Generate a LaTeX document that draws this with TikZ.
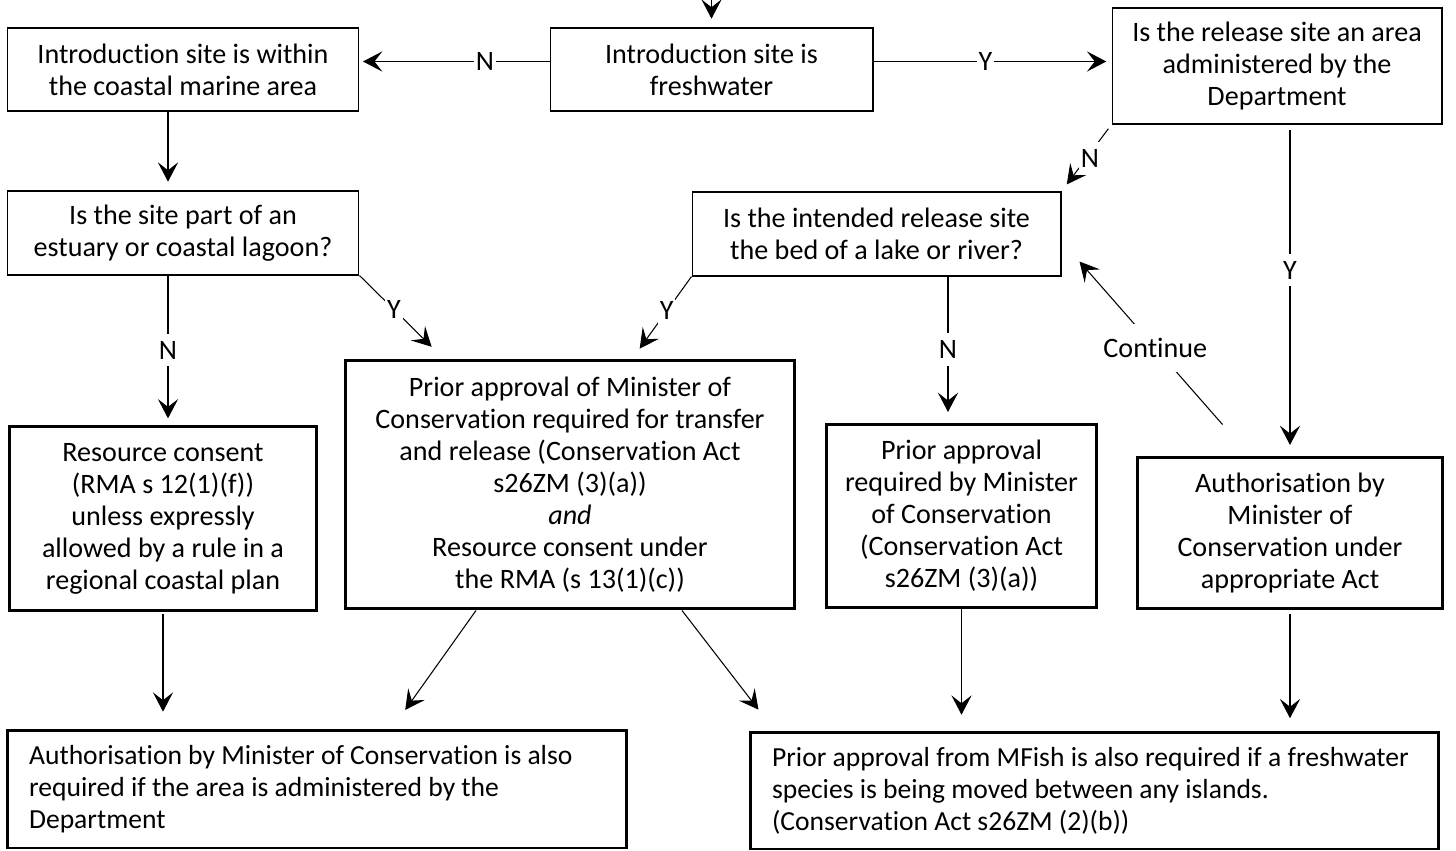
\documentclass[tikz,border=0pt]{standalone}
\usepackage{fontspec}
\setmainfont{Carlito}[Ligatures=NoCommon]
\usetikzlibrary{arrows.meta}

\tikzset{
  box/.style={draw, line width=0.6pt, align=center, inner sep=0pt},
  heavybox/.style={box, line width=1.7pt},
  notebox/.style={draw, line width=1.7pt, align=flush left, inner xsep=0.44cm, inner ysep=0pt, font=\fontsize{15.7}{18.2}\selectfont},
  arr/.style={line width=0.6pt, -{Stealth[length=11pt, width=11.5pt, inset=4.5pt]}, shorten >=5pt},
  lab/.style={fill=white, inner xsep=1pt, inner ysep=4pt}
}

\begin{document}
\begin{tikzpicture}[x=0.02cm, y=-0.02cm, font=\fontsize{16}{18.2}\selectfont]

\useasboundingbox (0,0) rectangle (1456,851);

\node[box, minimum width=6.46cm, minimum height=1.66cm] (fresh) at (711.5,69.5) {Introduction site is\\freshwater};
\node[box, minimum width=7.04cm, minimum height=1.66cm] (coast) at (183,69.5) {Introduction site is within\\the coastal marine area};
\node[box, minimum width=6.6cm, minimum height=2.32cm] (dept) at (1277,66) {Is the release site an area\\administered by the\\Department};

\node[box, minimum width=7.04cm, minimum height=1.68cm] (estuary) at (183,233) {Is the site part of an\\estuary or coastal lagoon?};
\node[box, minimum width=7.38cm, minimum height=1.68cm] (bed) at (876.5,234) {Is the intended release site\\the bed of a lake or river?};

\node[heavybox, minimum width=6.16cm, minimum height=3.7cm] (consent) at (163,518.5) {Resource consent\\(RMA s 12(1)(f))\\unless expressly\\allowed by a rule in a\\regional coastal plan};
\node[heavybox, minimum width=9cm, minimum height=4.98cm] (prior) at (570,484.5) {Prior approval of Minister of\\Conservation required for transfer\\and release (Conservation Act\\s26ZM (3)(a))\\\textit{and}\\Resource consent under\\the RMA (s 13(1)(c))};
\node[heavybox, minimum width=5.42cm, minimum height=3.68cm] (approval) at (961.5,516) {Prior approval\\required by Minister\\of Conservation\\(Conservation Act\\s26ZM (3)(a))};
\node[heavybox, minimum width=6.12cm, minimum height=3.04cm] (auth) at (1290,533) {Authorisation by\\Minister of\\Conservation under\\appropriate Act};

\node[notebox, text width=11.52cm, minimum height=2.36cm] (alsoauth) at (317,789) {Authorisation by Minister of Conservation is also\\required if the area is administered by the\\Department};
\node[notebox, text width=12.9cm, minimum height=2.34cm] (mfish) at (1094.5,790.5) {Prior approval from MFish is also required if a freshwater\\species is being moved between any islands.\\(Conservation Act s26ZM (2)(b))};

\coordinate (entry) at (711.5,0);
\draw[arr] (entry) -- (fresh);

\draw[arr, shorten >=2pt] ([yshift=0.16cm]fresh.west) -- node[lab, pos=0.34] {N} ([yshift=0.16cm]fresh.west -| coast.east);
\draw[arr, shorten >=3pt] ([yshift=0.16cm]fresh.east) -- node[lab, pos=0.47] {Y} ([yshift=0.16cm]fresh.east -| dept.west);

\draw[arr] ([xshift=-0.3cm]coast.south) -- ([xshift=-0.3cm]coast.south |- estuary.north);
\draw[arr, shorten <=3pt] (dept.south west) -- node[lab, xshift=2pt] {N} (bed.north east);
\draw[arr, shorten <=3pt, shorten >=6pt] (dept.south -| auth.north) -- node[lab, pos=0.44] {Y} (auth.north);

\draw[arr, shorten >=3.5pt] ([xshift=-0.3cm]estuary.south) -- node[lab] {N} ([xshift=-0.3cm]estuary.south |- consent.north);
\draw[arr, shorten >=9.5pt] (estuary.south east) -- node[lab, pos=0.41] {Y} ([xshift=2cm]prior.north west);
\draw[arr, shorten >=7pt] (bed.south west) -- node[lab, pos=0.42] {Y} ([xshift=-3.28cm]prior.north east);
\draw[arr, shorten >=6pt] ([xshift=1.43cm]bed.south) -- node[lab] {N} ([xshift=1.43cm]bed.south |- approval.north);
\draw[arr, shorten >=0pt] ([xshift=1.74cm, yshift=0.62cm]auth.north west) -- node[lab, inner ysep=8pt, pos=0.47] {Continue} ([xshift=0.36cm, yshift=0.3cm]bed.south east);

\draw[arr, shorten <=1pt, shorten >=9.6pt] (consent.south) -- (consent.south |- alsoauth.north);
\draw[arr, shorten >=13pt] ([xshift=-1.88cm]prior.south) -- ([xshift=1.5cm]alsoauth.north);
\draw[arr, shorten >=15pt] ([xshift=2.24cm]prior.south) -- ([xshift=0.52cm]mfish.north west);
\draw[arr, shorten >=9pt] (approval.south) -- (approval.south |- mfish.north);
\draw[arr, shorten <=2pt, shorten >=7pt] (auth.south) -- (auth.south |- mfish.north);

\end{tikzpicture}
\end{document}
